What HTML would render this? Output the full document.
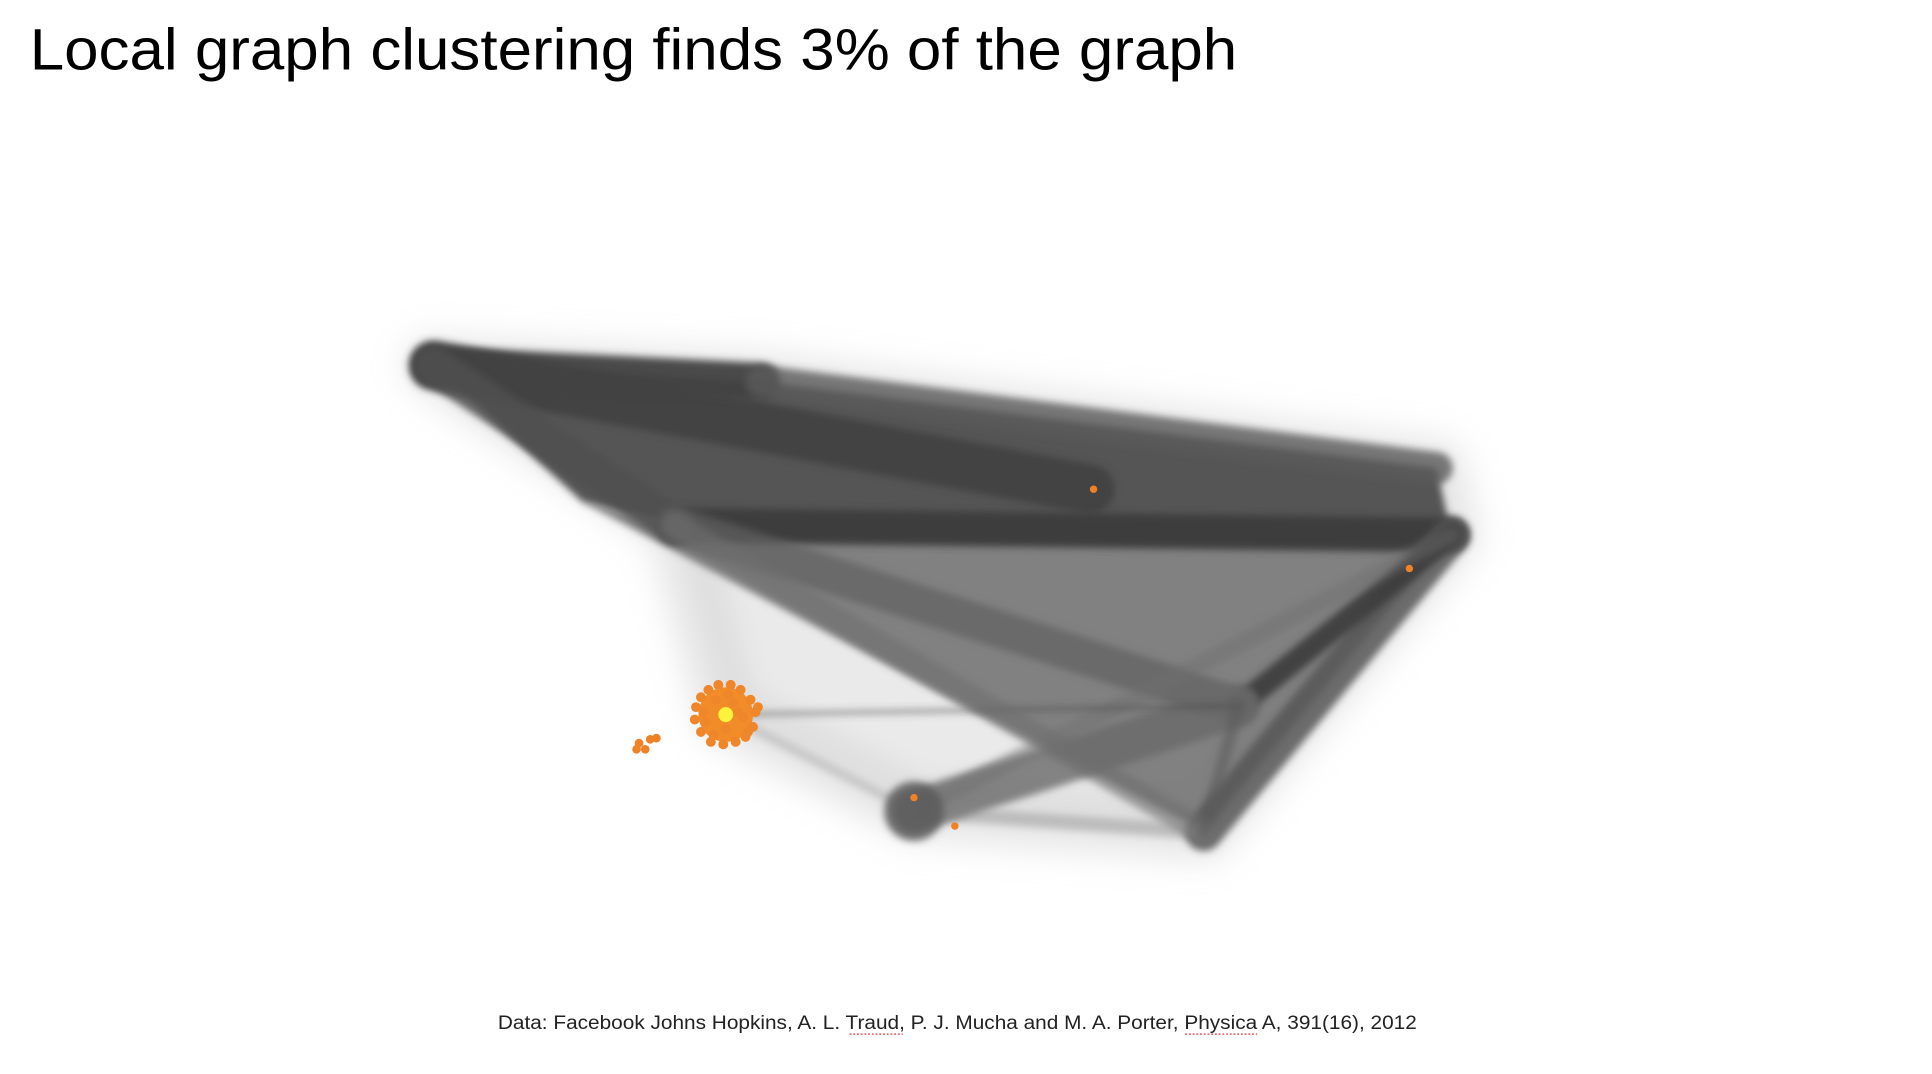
<!DOCTYPE html>
<html><head><meta charset="utf-8">
<style>
html,body{margin:0;padding:0;background:#fff;}
body{width:1932px;height:1074px;overflow:hidden;}
svg{display:block;}
</style></head>
<body>
<svg id="chart" width="1932" height="1074" viewBox="0 0 1560 867.2" xmlns="http://www.w3.org/2000/svg">
  <defs>
    <filter id="blur3" filterUnits="userSpaceOnUse" x="0" y="0" width="1560" height="867"><feGaussianBlur stdDeviation="3"/></filter>
    <filter id="blur10" filterUnits="userSpaceOnUse" x="0" y="0" width="1560" height="867"><feGaussianBlur stdDeviation="12"/></filter>
  </defs>
  <text x="24" y="56" font-family="'Liberation Sans', Arial, sans-serif" font-size="47" fill="#000" textLength="975" lengthAdjust="spacingAndGlyphs">Local graph clustering finds 3% of the graph</text>
  <g id="net"></g>
  <g id="nodes"></g>
  <text x="773" y="831" text-anchor="middle" font-family="'Liberation Sans', Arial, sans-serif" font-size="15.5" fill="#222" textLength="742" lengthAdjust="spacingAndGlyphs">Data: Facebook Johns Hopkins, A. L. Traud, P. J. Mucha and M. A. Porter, Physica A, 391(16), 2012</text>
  <line x1="686" y1="835" x2="729" y2="835" stroke="#d33" stroke-width="1" stroke-dasharray="1.5 1.5"/>
  <line x1="957" y1="835" x2="1015" y2="835" stroke="#d33" stroke-width="1" stroke-dasharray="1.5 1.5"/>
</svg>
<script>
// hub nodes of the network layout (layout coordinates)
const hubNames = ['A','B','C','D','E','F','G','H','I','J','K','L'];
const hubX = [350, 1172, 545, 1000, 972, 738, 586, 880, 615, 1160, 760, 470];
const hubY = [295, 432, 424, 570, 672, 655, 577, 395, 308, 378, 560, 405];
// region outlines (sequences of hubs)
const upperRegion = ['A','I','J','B','C','L'];
const lowerRegion = ['L','C','B','E','K'];
const haloRegion = ['A','I','J','B','E','F','G','C'];
// edge bundles between hubs: from, to, bundle width, gray level, opacity
const edgeFrom = ['A','A','C','A','B','B','C','F','F','G','I','C','G','F','D'];
const edgeTo   = ['I','H','B','C','E','D','D','D','B','D','J','E','F','E','E'];
const edgeW    = [30, 40, 28, 30, 30, 18, 30, 34, 14, 3, 26, 20, 8, 12, 10];
const edgeGray = [64, 66, 62, 80, 85, 60, 95, 105, 110, 70, 90, 110, 150, 130, 90];
const edgeOp   = [0.95, 0.95, 1, 0.85, 0.85, 0.9, 0.7, 0.8, 0.45, 0.6, 0.8, 0.6, 0.35, 0.4, 0.6];
// cluster nodes (found community) offsets relative to seed
const clusterDx = [-20,-14,-6,4,12,20,24,22,16,8,-2,-12,-20,-25,-24,-8,6,14,-16,0,26,-18,10,2,-10,18];
const clusterDy = [-14,-20,-24,-24,-20,-12,-2,10,18,22,24,22,14,4,-6,-12,-10,2,6,12,-6,-2,-2,-16,16,14];
const extraX = [883, 1138, 738, 771, 516, 521, 525, 530, 514];
const extraY = [395, 459, 644, 667, 600, 605, 597, 596, 605];

const NS='http://www.w3.org/2000/svg';
const net=document.getElementById('net');
const nodesG=document.getElementById('nodes');
function hx(n){return hubX[hubNames.indexOf(n)];}
function hy(n){return hubY[hubNames.indexOf(n)];}
function pts(list){return list.map(n=>hx(n)+','+hy(n)).join(' ');}
function mk(tag,attrs,parent){const e=document.createElementNS(NS,tag);for(const k in attrs)e.setAttribute(k,attrs[k]);parent.appendChild(e);return e;}

const halo=mk('polygon',{points:pts(haloRegion),fill:'#bbb','fill-opacity':0.3,stroke:'#bbb','stroke-opacity':0.3,'stroke-width':50,'stroke-linejoin':'round',filter:'url(#blur10)'},net);


const lower=mk('polygon',{points:pts(lowerRegion),fill:'#6e6e6e','fill-opacity':0.85,filter:'url(#blur3)'},net);


const upper=mk('polygon',{points:pts(upperRegion),fill:'#4e4e4e','fill-opacity':0.95,filter:'url(#blur3)'},net);



for(let i=0;i<edgeFrom.length;i++){
  const g=edgeGray[i];
  const l=mk('line',{x1:hx(edgeFrom[i]),y1:hy(edgeFrom[i]),x2:hx(edgeTo[i]),y2:hy(edgeTo[i]),stroke:`rgb(${g},${g},${g})`,'stroke-opacity':edgeOp[i],'stroke-width':edgeW[i],'stroke-linecap':'round',filter:'url(#blur3)'},net);
  
  
}
const blob=mk('circle',{cx:hx('F'),cy:hy('F'),r:24,fill:'#5a5a5a','fill-opacity':0.85,filter:'url(#blur3)'},net);



const sx=hx('G'), sy=hy('G');
const core=mk('circle',{cx:sx,cy:sy,r:22,fill:'#f28c28'},nodesG);


for(let i=0;i<clusterDx.length;i++){
  const c=mk('circle',{cx:sx+clusterDx[i],cy:sy+clusterDy[i],r:4,fill:'#f0862a'},nodesG);
  
  
}
for(let i=0;i<extraX.length;i++){
  const c=mk('circle',{cx:extraX[i],cy:extraY[i],r:i<4?3:3.5,fill:'#ef8127'},nodesG);
  
  
}
const seed=mk('circle',{cx:sx,cy:sy,r:6,fill:'#fff23a'},nodesG);


</script>
</body></html>
